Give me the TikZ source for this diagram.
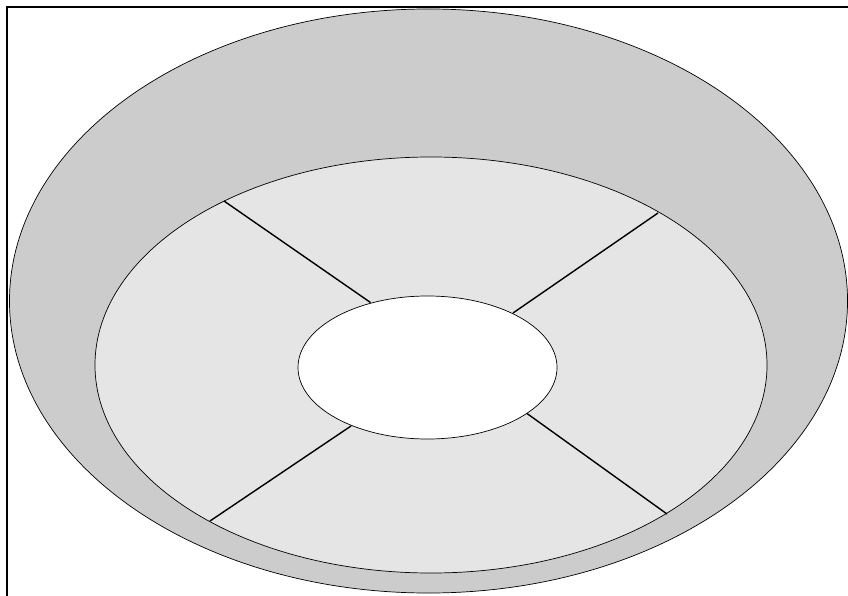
\documentclass[tikz,border=0pt]{standalone}
\usetikzlibrary{shapes.geometric}
\begin{document}
\begin{tikzpicture}[
    x=0.03cm,
    y=-0.03cm,
    disc/.style={
        ellipse,
        draw=black,
        line width=0.6pt,
        fill=#1,
        inner sep=0pt,
        outer sep=0pt
    },
    spoke/.style={line width=1.2pt},
]
\useasboundingbox (0,0) rectangle (848,596);
\clip (0,0) rectangle (848,596);

\draw[line width=1.7pt] (7,7) rectangle (880,630);

\node[disc=gray!40, minimum width=25.14cm, minimum height=17.52cm] (outer)  at (428.5,301) {};
\node[disc=gray!20, minimum width=20.16cm, minimum height=12.48cm] (middle) at (431,365) {};
\node[disc=white,   minimum width=7.77cm,  minimum height=4.29cm]  (hole)   at (427.5,367.5) {};

\coordinate (ul1) at (224,201);
\coordinate (ul2) at (370.5,302.5);
\coordinate (ur1) at (658,213);
\coordinate (ur2) at (513,313);
\coordinate (ll1) at (210,521);
\coordinate (ll2) at (351,426);
\coordinate (lr1) at (667,514);
\coordinate (lr2) at (527,413.5);

\draw[spoke] (ul1) -- (ul2);
\draw[spoke] (ur1) -- (ur2);
\draw[spoke] (ll1) -- (ll2);
\draw[spoke] (lr1) -- (lr2);

\end{tikzpicture}
\end{document}
